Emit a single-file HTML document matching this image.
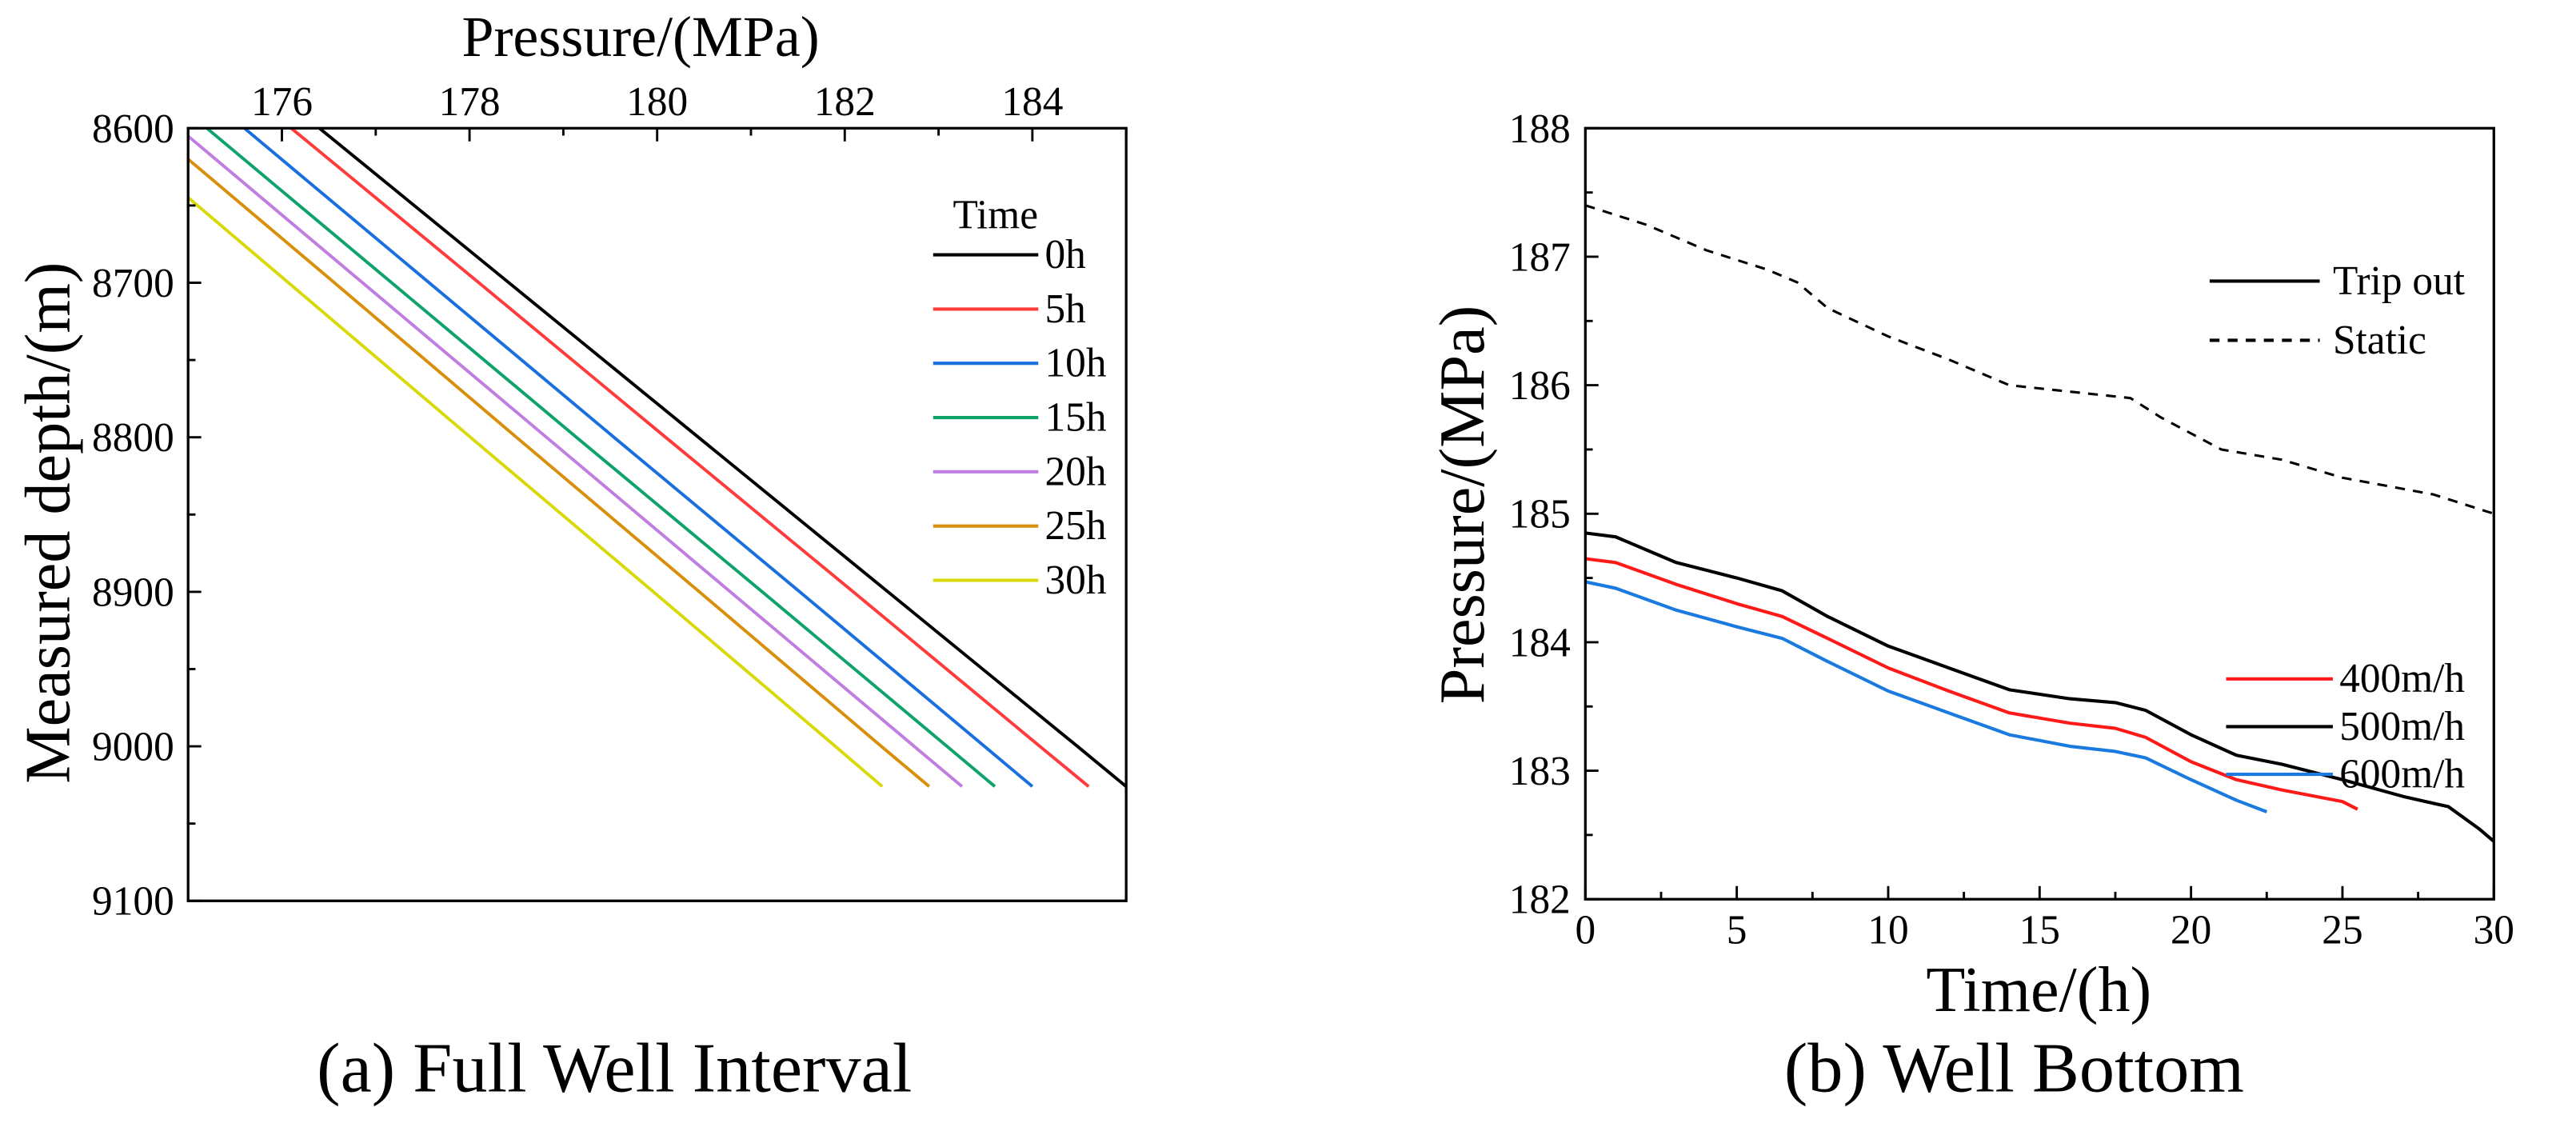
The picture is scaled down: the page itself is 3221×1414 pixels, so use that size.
<!DOCTYPE html>
<html><head><meta charset="utf-8"><style>
html,body{margin:0;padding:0;background:#fff;}
svg{display:block;font-family:"Liberation Serif","Times New Roman",serif;}
</style></head><body>
<svg id="fig" width="3221" height="1414" viewBox="0 0 1568 688" preserveAspectRatio="none" xmlns="http://www.w3.org/2000/svg">
<defs>
<clipPath id="clipA"><rect x="114.5" y="78" width="571" height="470"/></clipPath>
<clipPath id="clipB"><rect x="965" y="78" width="553" height="469"/></clipPath>
</defs>
<g id="panelA"></g>
<g id="panelB"></g>
</svg>
<script>
// ---- Panel A data ----
const depthsA = [8600, 8700, 8800, 8900, 9000, 9026];
const seriesNamesA = ["0h","5h","10h","15h","20h","25h","30h"];
const p0h  = [176.40,178.42,180.44,182.46,184.48,185.00];
const p5h  = [176.10,178.10,180.09,182.09,184.08,184.60];
const p10h = [175.60,177.57,179.54,181.52,183.49,184.00];
const p15h = [175.20,177.17,179.14,181.12,183.09,183.60];
const p20h = [174.90,176.86,178.82,180.78,182.74,183.25];
const p25h = [174.61,176.56,178.50,180.45,182.39,182.90];
const p30h = [174.13,176.07,178.01,179.96,181.90,182.40];
const xTicksA = [176,178,180,182,184];
const yTicksA = [8600,8700,8800,8900,9000,9100];
// ---- Panel B data ----
const tStatic = [0,2,4,6,7,8,10,12,14,16,18,19,21,23,25,28,30];
const pStatic = [187.4,187.25,187.05,186.9,186.8,186.6,186.38,186.2,186.0,185.95,185.9,185.75,185.5,185.42,185.28,185.15,185.0];
const t500 = [0,1,3,5,6.5,8,10,12,14,16,17.5,18.5,20,21.5,23,25,27,28.5,29.5,30];
const p500 = [184.85,184.82,184.62,184.5,184.4,184.2,183.97,183.8,183.63,183.56,183.53,183.47,183.28,183.12,183.05,182.93,182.8,182.72,182.55,182.45];
const t400 = [0,1,3,5,6.5,8,10,12,14,16,17.5,18.5,20,21.5,23,25,25.5];
const p400 = [184.65,184.62,184.45,184.3,184.2,184.03,183.8,183.62,183.45,183.37,183.33,183.26,183.07,182.93,182.85,182.76,182.7];
const t600 = [0,1,3,5,6.5,8,10,12,14,16,17.5,18.5,20,21.5,22.5];
const p600 = [184.47,184.42,184.25,184.12,184.03,183.85,183.62,183.45,183.28,183.19,183.15,183.1,182.93,182.77,182.68];
const xTicksB = [0,5,10,15,20,25,30];
const yTicksB = [182,183,184,185,186,187,188];

const NS="http://www.w3.org/2000/svg";
function mk(tag, attrs, parent){const e=document.createElementNS(NS,tag);for(const k in attrs)e.setAttribute(k,attrs[k]);parent.appendChild(e);return e;}
function txt(s, attrs, parent){const e=mk('text',attrs,parent);e.textContent=s;return e;}

// ===== Panel A =====
const A=document.getElementById('panelA');
const axL=114.5, axR=685.5, axT=78, axB=548;
const xA=v=>axL+(v-175)/(185-175)*(axR-axL);
const yA=v=>axT+(v-8600)/(9100-8600)*(axB-axT);
const colorsA=["#000000","#ff3b3b","#1a6fdf","#0fa36b","#c07ee0","#d8900c","#d9d90a"];
const dataA=[p0h,p5h,p10h,p15h,p20h,p25h,p30h];
const gLinesA=mk('g',{'clip-path':'url(#clipA)'},A);


dataA.forEach((arr,i)=>{
  const d=arr.map((p,j)=>(j?'L':'M')+xA(p).toFixed(2)+' '+yA(depthsA[j]).toFixed(2)).join(' ');
  const pth=mk('path',{d:d,fill:'none',stroke:colorsA[i],'stroke-width':1.9},gLinesA);
  
  
});
const frameA=mk('rect',{x:axL,y:axT,width:axR-axL,height:axB-axT,fill:'none',stroke:'#000','stroke-width':1.6},A);


for(let v=175;v<=185;v+=1){
  const major=xTicksA.includes(v);
  const t=mk('line',{x1:xA(v),x2:xA(v),y1:axT,y2:axT+(major?8:4.5),stroke:'#000','stroke-width':1.4},A);
  
  
}
xTicksA.forEach(v=>{
  const t=txt(String(v),{x:xA(v),y:70,'text-anchor':'middle','font-size':25},A);
  
  
});
for(let v=8600;v<=9100;v+=50){
  const major=yTicksA.includes(v);
  const t=mk('line',{x1:axL,x2:axL+(major?8:4.5),y1:yA(v),y2:yA(v),stroke:'#000','stroke-width':1.4},A);
  
  
}
yTicksA.forEach(v=>{
  const t=txt(String(v),{x:106,y:yA(v)+8.5,'text-anchor':'end','font-size':25},A);
  
  
});
const xtA=txt('Pressure/(MPa)',{x:390,y:34,'text-anchor':'middle','font-size':35},A);


const ytA=txt('Measured depth/(m)',{x:0,y:0,'text-anchor':'middle','font-size':39,transform:'translate(42,318) rotate(-90)'},A);


const lgT=txt('Time',{x:580,y:139,'font-size':25},A);


seriesNamesA.forEach((n,i)=>{
  const y=163+i*33;
  const l=mk('line',{x1:568,x2:632,y1:y-8,y2:y-8,stroke:colorsA[i],'stroke-width':2},A);
  
  
  const t=txt(n,{x:636,y:y,'font-size':25},A);
  
  
});
const capA=txt('(a) Full Well Interval',{x:374,y:664,'text-anchor':'middle','font-size':43},A);



// ===== Panel B =====
const B=document.getElementById('panelB');
const bL=965, bR=1518, bT=78, bB=547;
const xB=v=>bL+v/30*(bR-bL);
const yB=v=>bB-(v-182)/(188-182)*(bB-bT);
const gLinesB=mk('g',{'clip-path':'url(#clipB)'},B);


function drawB(ts,ps,color,dash,name,w){
  const d=ts.map((t,j)=>(j?'L':'M')+xB(t).toFixed(2)+' '+yB(ps[j]).toFixed(2)).join(' ');
  const a={d:d,fill:'none',stroke:color,'stroke-width':w,'stroke-linejoin':'round'};
  if(dash)a['stroke-dasharray']=dash;
  const p=mk('path',a,gLinesB);
  
  
}
drawB(tStatic,pStatic,'#000','6 5','line-static',1.5);
drawB(t500,p500,'#000',null,'line-500mh',2);
drawB(t400,p400,'#ff1a1a',null,'line-400mh',2);
drawB(t600,p600,'#1a7ae0',null,'line-600mh',2);
const frameB=mk('rect',{x:bL,y:bT,width:bR-bL,height:bB-bT,fill:'none',stroke:'#000','stroke-width':1.6},B);


for(let v=0;v<=30;v+=2.5){
  const major=xTicksB.includes(v);
  const t=mk('line',{x1:xB(v),x2:xB(v),y1:bB,y2:bB-(major?8:4.5),stroke:'#000','stroke-width':1.4},B);
  
  
}
xTicksB.forEach(v=>{
  const t=txt(String(v),{x:xB(v),y:574,'text-anchor':'middle','font-size':25},B);
  
  
});
for(let v=182;v<=188;v+=0.5){
  const major=yTicksB.includes(v);
  const t=mk('line',{x1:bL,x2:bL+(major?8:4.5),y1:yB(v),y2:yB(v),stroke:'#000','stroke-width':1.4},B);
  
  
}
yTicksB.forEach(v=>{
  const t=txt(String(v),{x:956,y:yB(v)+8.5,'text-anchor':'end','font-size':25},B);
  
  
});
const xtB=txt('Time/(h)',{x:1241,y:615,'text-anchor':'middle','font-size':39},B);


const ytB=txt('Pressure/(MPa)',{x:0,y:0,'text-anchor':'middle','font-size':39,transform:'translate(903,307) rotate(-90)'},B);


const legB=[
  {n:'Trip out',c:'#000',dash:null,x1:1345,x2:1412,lx:1420,y:171,id:'trip-out'},
  {n:'Static',c:'#000',dash:'6 5',x1:1345,x2:1412,lx:1420,y:207,id:'static'},
  {n:'400m/h',c:'#ff1a1a',dash:null,x1:1355,x2:1420,lx:1424,y:413,id:'400mh'},
  {n:'500m/h',c:'#000',dash:null,x1:1355,x2:1420,lx:1424,y:442,id:'500mh'},
  {n:'600m/h',c:'#1a7ae0',dash:null,x1:1355,x2:1420,lx:1424,y:471,id:'600mh'}
];
legB.forEach(e=>{
  const a={x1:e.x1,x2:e.x2,y1:e.y,y2:e.y,stroke:e.c,'stroke-width':2};
  if(e.dash)a['stroke-dasharray']=e.dash;
  const l=mk('line',a,B);
  
  
  const t=txt(e.n,{x:e.lx,y:e.y+8,'font-size':25},B);
  
  
});
const capB=txt('(b) Well Bottom',{x:1226,y:664,'text-anchor':'middle','font-size':43},B);


</script>
</body></html>
